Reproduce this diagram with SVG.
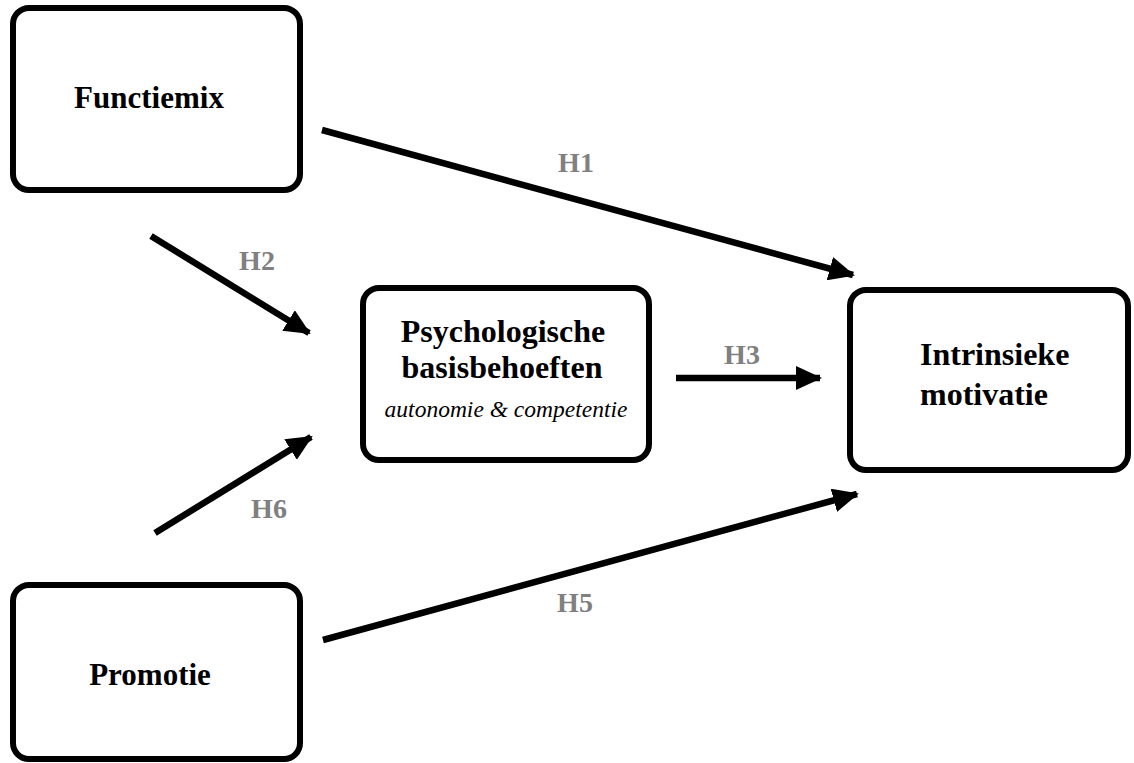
<svg xmlns="http://www.w3.org/2000/svg" width="1134" height="763" viewBox="0 0 1134 763">
<style>
.box{fill:#fff;stroke:#000;stroke-width:6}
.lbl{font-family:"Liberation Serif","Times New Roman",serif;font-weight:bold;font-size:31px;fill:#000}
.big{font-size:32px}
.it{font-family:"Liberation Serif","Times New Roman",serif;font-style:italic;font-size:23.5px;fill:#000}
.h{font-family:"Liberation Serif","Times New Roman",serif;font-weight:bold;font-size:28px;fill:#808080}
.c{stroke:#000;stroke-width:6.5;fill:none;marker-end:url(#ah)}
</style>
<defs>
<marker id="ah" markerUnits="userSpaceOnUse" markerWidth="28" markerHeight="24" refX="24" refY="12" orient="auto">
<path d="M0,0 L26,12 L0,24 Z" fill="#000"/>
</marker>
</defs>
<rect width="1134" height="763" fill="#fff"/>
<g id="connectors">
<line class="c" x1="322" y1="130" x2="853" y2="275"/>
<line class="c" x1="151" y1="236" x2="309" y2="333"/>
<line class="c" x1="155" y1="533" x2="311" y2="437"/>
<line class="c" x1="676" y1="378" x2="820" y2="378"/>
<line class="c" x1="323" y1="640" x2="857" y2="494"/>
<text class="h" x="576" y="172" text-anchor="middle">H1</text>
<text class="h" x="257" y="270" text-anchor="middle">H2</text>
<text class="h" x="742" y="364" text-anchor="middle">H3</text>
<text class="h" x="269" y="518" text-anchor="middle">H6</text>
<text class="h" x="575" y="612" text-anchor="middle">H5</text>
</g>
<g id="functiemix">
<rect class="box" x="13" y="8" width="287" height="182" rx="16"/>
<text class="lbl" x="149" y="108" text-anchor="middle">Functiemix</text>
</g>
<g id="psychologische">
<rect class="box" x="363" y="288" width="286" height="172" rx="16"/>
<text class="lbl big" x="503" y="342" text-anchor="middle">Psychologische</text>
<text class="lbl big" x="502" y="378" text-anchor="middle">basisbehoeften</text>
<text class="it" x="506" y="417" text-anchor="middle">autonomie &amp; competentie</text>
</g>
<g id="intrinsieke">
<rect class="box" x="850" y="290" width="278" height="180" rx="16"/>
<text class="lbl big" x="920" y="365">Intrinsieke</text>
<text class="lbl big" x="920" y="405">motivatie</text>
</g>
<g id="promotie">
<rect class="box" x="13" y="585" width="287" height="174" rx="16"/>
<text class="lbl" x="150" y="685" text-anchor="middle">Promotie</text>
</g>
</svg>
